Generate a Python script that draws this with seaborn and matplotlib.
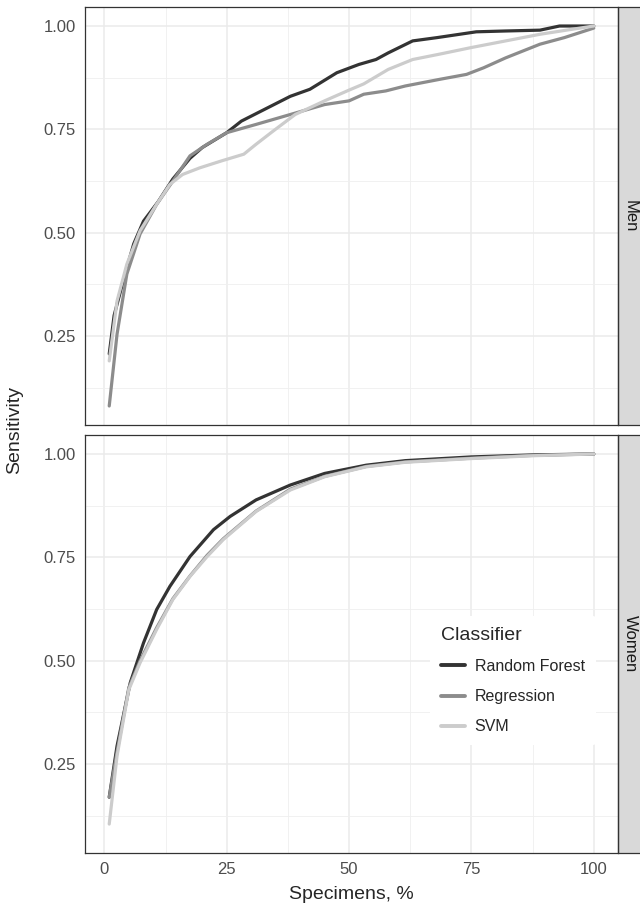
import pandas as pd
import matplotlib
matplotlib.use("Agg")
import matplotlib.pyplot as plt
import seaborn as sns
from matplotlib.patches import Rectangle
from matplotlib.ticker import FixedLocator

#%% Data (sensitivity vs % of specimens)

classifiers = ["Random Forest", "Regression", "SVM"]
line_colors = ["#333333", "#8C8C8C", "#CCCCCC"]
sexes = ["Men", "Women"]

men_rf_x = [1, 2, 4, 6, 8, 11, 14, 17.5, 20, 25, 28, 33, 38, 42, 47.5, 52, 55.5, 58, 63, 68, 76, 82, 89, 93, 100]
men_rf_y = [0.207, 0.30, 0.39, 0.473, 0.528, 0.575, 0.63, 0.68, 0.706, 0.742, 0.77, 0.80, 0.83, 0.847,
            0.887, 0.907, 0.919, 0.935, 0.964, 0.972, 0.986, 0.988, 0.99, 1.0, 1.0]

men_reg_x = [1, 2.6, 4.6, 7.3, 10.7, 14, 17.5, 21, 25, 31, 38, 45, 50, 53, 57.5, 61.5, 68.5, 74, 77.5, 82, 89, 94, 100]
men_reg_y = [0.081, 0.255, 0.40, 0.497, 0.569, 0.625, 0.686, 0.714, 0.742, 0.762, 0.786, 0.81, 0.819, 0.835,
             0.843, 0.855, 0.871, 0.883, 0.899, 0.923, 0.956, 0.972, 0.995]

men_svm_x = [1, 2.6, 4.6, 7.3, 10.7, 13.4, 16, 19.5, 24, 28.5, 31, 34.5, 39, 45, 50, 53, 58, 63, 68.5, 75, 82, 89, 95.5, 100]
men_svm_y = [0.19, 0.335, 0.424, 0.505, 0.569, 0.617, 0.641, 0.657, 0.674, 0.69, 0.714, 0.746, 0.786, 0.819,
             0.845, 0.86, 0.895, 0.919, 0.932, 0.948, 0.964, 0.98, 0.992, 1.0]

women_rf_x = [1, 2.6, 5.3, 8, 10.7, 13.4, 17.5, 22.3, 25.7, 31, 38, 45, 53.5, 61.5, 75, 88, 100]
women_rf_y = [0.17, 0.294, 0.447, 0.543, 0.624, 0.68, 0.752, 0.817, 0.849, 0.889, 0.925, 0.953, 0.973,
              0.984, 0.993, 0.998, 1.0]

women_reg_x = [1, 2.6, 5, 7.3, 10.7, 14, 17.5, 21, 24.3, 31, 38, 45, 53.5, 61.5, 75, 88, 100]
women_reg_y = [0.17, 0.28, 0.435, 0.50, 0.58, 0.65, 0.705, 0.755, 0.795, 0.862, 0.915, 0.946, 0.97,
               0.981, 0.99, 0.997, 1.0]

women_svm_x = [1, 2.6, 5, 7.3, 10.7, 14, 17.5, 21, 24.3, 31, 38, 45, 53.5, 61.5, 75, 88, 100]
women_svm_y = [0.105, 0.27, 0.43, 0.495, 0.576, 0.648, 0.704, 0.752, 0.793, 0.861, 0.913, 0.945, 0.969,
               0.98, 0.989, 0.996, 1.0]

x_ticks = [0, 25, 50, 75, 100]
y_ticks = [0.25, 0.50, 0.75, 1.00]

#%% Long format

curves = {
    ("Men", "Random Forest"): (men_rf_x, men_rf_y),
    ("Men", "Regression"): (men_reg_x, men_reg_y),
    ("Men", "SVM"): (men_svm_x, men_svm_y),
    ("Women", "Random Forest"): (women_rf_x, women_rf_y),
    ("Women", "Regression"): (women_reg_x, women_reg_y),
    ("Women", "SVM"): (women_svm_x, women_svm_y),
}
frames = []
for (sex, clf), (xs, ys) in curves.items():
    frames.append(pd.DataFrame({"Sex": sex, "Classifier": clf, "Specimens": xs, "Sensitivity": ys}))
df = pd.concat(frames, ignore_index=True)

#%% Plot

sns.set_style("white")
plt.rcParams["font.family"] = ["Liberation Sans", "DejaVu Sans"]

W, H = 640, 905
fig = plt.figure(figsize=(6.4, 9.05), dpi=100)
left, right = 85, 618
panels = {"Men": (7, 425), "Women": (435, 853)}
axes = {}
for sex, (top, bot) in panels.items():
    axes[sex] = fig.add_axes([left / W, 1 - bot / H, (right - left) / W, (bot - top) / H])

palette = dict(zip(classifiers, line_colors))
strip_w = 24 / (right - left)

for sex, ax in axes.items():
    sub = df[df.Sex == sex]
    sns.lineplot(data=sub, x="Specimens", y="Sensitivity", hue="Classifier",
                 hue_order=classifiers, palette=palette, estimator=None, sort=True,
                 linewidth=2.3, ax=ax, legend=(sex == "Women"))
    ax.set_xlim(-3.95, 104.95)
    ax.set_ylim(0.035, 1.046)
    ax.xaxis.set_major_locator(FixedLocator(x_ticks))
    ax.xaxis.set_minor_locator(FixedLocator([12.5, 37.5, 62.5, 87.5]))
    ax.yaxis.set_major_locator(FixedLocator(y_ticks))
    ax.yaxis.set_minor_locator(FixedLocator([0.125, 0.375, 0.625, 0.875]))
    ax.set_yticklabels([f"{v:.2f}" for v in y_ticks])
    ax.grid(which="major", color="#EBEBEB", linewidth=1.1)
    ax.grid(which="minor", color="#EFEFEF", linewidth=0.6)
    ax.set_axisbelow(True)
    for sp in ax.spines.values():
        sp.set_color("#333333")
        sp.set_linewidth(0.9)
    ax.tick_params(which="major", labelsize=12, labelcolor="#4D4D4D", color="#333333",
                   length=3.5, width=0.8, pad=3)
    ax.tick_params(which="minor", length=0)
    ax.set_xlabel("")
    ax.set_ylabel("")

    # facet strip on the right
    ax.add_patch(Rectangle((1.0, 0.0), strip_w, 1.0, transform=ax.transAxes,
                           facecolor="#D9D9D9", edgecolor="#333333", linewidth=0.9,
                           clip_on=False))
    ax.text(1.0 + strip_w / 2, 0.5, sex, transform=ax.transAxes, rotation=-90,
            ha="center", va="center", fontsize=12, color="#1A1A1A")

axes["Men"].tick_params(axis="x", labelbottom=False, length=0)

# legend inside the bottom panel
ax = axes["Women"]
handles, labels = ax.get_legend_handles_labels()
for h in handles:
    h.set_linewidth(2.8)
leg = ax.legend(handles, labels, title="Classifier", loc="upper left",
                bbox_to_anchor=(0.647, 0.568), borderaxespad=0, frameon=True,
                fontsize=11.5, title_fontsize=14, handlelength=1.5,
                handletextpad=0.6, labelspacing=0.95, borderpad=0.7)
leg._legend_box.align = "left"
leg.get_frame().set_facecolor("white")
leg.get_frame().set_edgecolor("none")
leg.get_frame().set_alpha(1)

fig.text(15 / W, 1 - 430 / H, "Sensitivity", rotation=90, ha="center", va="center", fontsize=14)
fig.text((left + right) / 2 / W, 1 - 899 / H, "Specimens, %", ha="center", va="baseline", fontsize=14)

fig.savefig("out.png", dpi=100)
